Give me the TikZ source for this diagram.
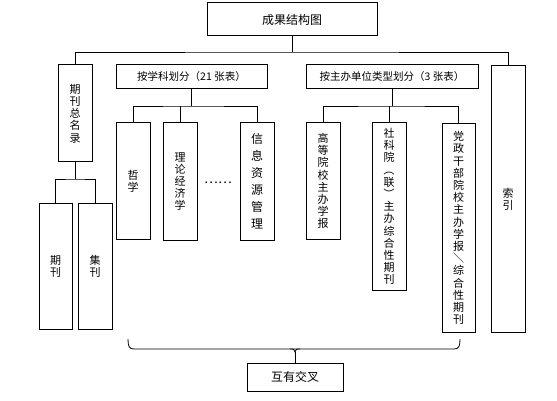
\documentclass[tikz,border=0pt]{standalone}
\usepackage{graphicx}
\usepackage{fontspec}
\setmainfont{Noto Sans CJK SC}
\newcommand{\vrot}[1]{\rotatebox[origin=c]{-90}{#1}}
\begin{document}
\begin{tikzpicture}[x=1pt, y=-1pt,
  box/.style={draw, line width=1pt, inner sep=0pt, align=center},
  vt/.style={font=\fontsize{11}{12.2}\selectfont},
  ht/.style={font=\fontsize{10.5}{12}\selectfont},
  conn/.style={line width=0.8pt}]
  \useasboundingbox (0,0) rectangle (557,401);

  % top level
  \node[box, minimum width=170, minimum height=33, font=\fontsize{12}{14}\selectfont] (cg) at (292,19.5) {成果结构图};
  \coordinate (bus) at (292,52);
  \node[box, vt, minimum width=34, minimum height=97] (zml) at (75,113.5) {期\\刊\\总\\名\\录};
  \node[box, ht, minimum width=151, minimum height=24] (xk) at (191.5,77) {按学科划分（21 张表）};
  \node[box, ht, minimum width=172, minimum height=24] (zb) at (392,77) {按主办单位类型划分（3 张表）};
  \node[box, vt, minimum width=34, minimum height=266] (sy) at (508,199) {索\\引};
  \draw[conn] (cg.south) -- (bus);
  \draw[conn] (zml.north) |- (bus) -| (sy.north);

  % journal list
  \node[box, vt, minimum width=33, minimum height=126] (qk) at (55.5,266) {期\\刊};
  \node[box, vt, minimum width=34, minimum height=126] (jk) at (95,266) {集\\刊};
  \coordinate (zmlbus) at (75,179);
  \draw[conn] (zml.south) -- (zmlbus);
  \draw[conn] (qk.north) |- (zmlbus) -| (jk.north);

  % by discipline
  \node[box, vt, minimum width=34, minimum height=116] (zx) at (133,181) {哲\\学};
  \node[box, vt, minimum width=34, minimum height=117] (ll) at (180,181.5) {理\\论\\经\\济\\学};
  \node[font=\fontsize{13}{14}\selectfont] (dots) at (218,183) {……};
  \node[box, font=\fontsize{12}{17}\selectfont, minimum width=34, minimum height=117] (xx) at (257,181.5) {信\\息\\资\\源\\管\\理};
  \coordinate (xkbus) at (191.5,106);
  \draw[conn] (xk.south) -- (xkbus);
  \draw[conn] (zx.north) |- (xkbus) -| (xx.north);
  \draw[conn] (ll.north) -- (ll.north |- xkbus);

  % by host unit
  \node[box, vt, minimum width=34, minimum height=116] (gd) at (323,181) {高\\等\\院\\校\\主\\办\\学\\报};
  \node[box, vt, minimum width=34, minimum height=167] (sk) at (389,206.5) {社\\科\\院\\\vrot{（}\\联\\\vrot{）}\\主\\办\\综\\合\\性\\期\\刊};
  \node[box, vt, minimum width=33, minimum height=208] (dz) at (458.5,228) {党\\政\\干\\部\\院\\校\\主\\办\\学\\报\\\vrot{／}\\综\\合\\性\\期\\刊};
  \coordinate (zbbus) at (392,106);
  \draw[conn] (zb.south) -- (zbbus);
  \draw[conn] (gd.north) |- (zbbus) -| (dz.north);
  \draw[conn] (sk.north) -- (sk.north |- zbbus);

  % overlap brace
  \node[box, font=\fontsize{12}{14}\selectfont, minimum width=96, minimum height=28] (jc) at (295,377) {互有交叉};
  \coordinate (brl) at (128,339);
  \coordinate (brr) at (460,339);
  \coordinate (brm) at (295,352);
  \draw[conn] (brl) .. controls (128,346) and (129,349) .. (134,349) -- (454,349) .. controls (459,349) and (460,346) .. (brr);
  \draw[conn] (290,349) .. controls (294,349) .. (brm) .. controls (296,349) .. (300,349);
  \draw[conn] (brm) -- (jc.north);
\end{tikzpicture}
\end{document}
